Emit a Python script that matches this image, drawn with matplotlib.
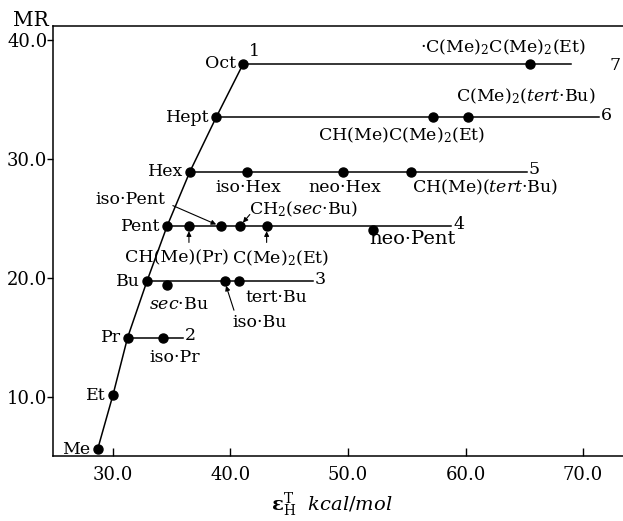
import matplotlib
matplotlib.use("Agg")
import matplotlib.pyplot as plt

plt.rcParams['font.family'] = ['DejaVu Serif']
plt.rcParams['mathtext.fontset'] = 'dejavuserif'

# n-alkyl chain (series 1)
chain_names = ['Me', 'Et', 'Pr', 'Bu', 'Pent', 'Hex', 'Hept', 'Oct']
chain_x = [28.7, 30.0, 31.25, 32.9, 34.6, 36.55, 38.8, 41.1]
chain_mr = [5.6, 10.15, 15.0, 19.75, 24.35, 28.95, 33.55, 38.05]

# horizontal series 2..7, each starts at an n-alkyl point
series_ids = ['2', '3', '4', '5', '6', '7']
series_start = ['Pr', 'Bu', 'Pent', 'Hex', 'Hept', 'Oct']
series_end_x = [36.0, 47.0, 58.8, 65.2, 71.4, 69.0]

# branched groups
branch_names = ['iso·Pr', 'sec·Bu', 'iso·Bu', 'tert·Bu',
                'CH(Me)(Pr)', 'iso·Pent', 'CH2(sec·Bu)', 'C(Me)2(Et)', 'neo·Pent',
                'iso·Hex', 'neo·Hex', 'CH(Me)(tert·Bu)',
                'CH(Me)C(Me)2(Et)', 'C(Me)2(tert·Bu)', 'C(Me)2C(Me)2(Et)']
branch_x = [34.3, 34.57, 39.5, 40.75,
            36.47, 39.17, 40.8, 43.08, 52.1,
            41.38, 49.6, 55.4,
            57.26, 60.2, 65.5]
branch_mr = [15.0, 19.45, 19.75, 19.75,
             24.35, 24.35, 24.35, 24.35, 24.05,
             28.95, 28.95, 28.95,
             33.55, 33.55, 38.05]

x_ticks = [30.0, 40.0, 50.0, 60.0, 70.0]
y_ticks = [10.0, 20.0, 30.0, 40.0]

# printed label for each branched group: (text, x, y, ha, size)
labels = {
    'iso·Pr': ('iso·Pr', 35.28, 13.3, 'center', 12.5),
    'sec·Bu': (r'$\it{sec}$·Bu', 35.6, 17.75, 'center', 12.5),
    'iso·Bu': ('iso·Bu', 42.5, 16.3, 'center', 12.5),
    'tert·Bu': ('tert·Bu', 43.9, 18.4, 'center', 12.5),
    'CH(Me)(Pr)': ('CH(Me)(Pr)', 35.45, 21.7, 'center', 12.5),
    'iso·Pent': ('iso·Pent', 31.45, 26.6, 'center', 12.5),
    'CH2(sec·Bu)': (r'CH$_2$($\it{sec}$·Bu)', 41.6, 25.75, 'left', 12.5),
    'C(Me)2(Et)': (r'C(Me)$_2$(Et)', 44.3, 21.7, 'center', 12.5),
    'neo·Pent': ('neo·Pent', 55.5, 23.3, 'center', 14),
    'iso·Hex': ('iso·Hex', 41.5, 27.6, 'center', 12.5),
    'neo·Hex': ('neo·Hex', 49.75, 27.6, 'center', 12.5),
    'CH(Me)(tert·Bu)': (r'CH(Me)($\it{tert}$·Bu)', 61.7, 27.6, 'center', 12.5),
    'CH(Me)C(Me)2(Et)': (r'CH(Me)C(Me)$_2$(Et)', 54.55, 32.0, 'center', 12.5),
    'C(Me)2(tert·Bu)': (r'C(Me)$_2$($\it{tert}$·Bu)', 65.1, 35.25, 'center', 12.5),
    'C(Me)2C(Me)2(Et)': (r'·C(Me)$_2$C(Me)$_2$(Et)', 63.2, 39.45, 'center', 12.5),
}

# little pointer arrows: label -> (from x, from y)
arrows = {
    'iso·Pent': (35.1, 26.1),
    'CH2(sec·Bu)': (41.65, 25.35),
    'CH(Me)(Pr)': (36.47, 23.0),
    'C(Me)2(Et)': (43.08, 23.0),
    'iso·Bu': (40.3, 17.3),
}

fig = plt.figure(figsize=(6.23, 5.21), dpi=100)
ax = fig.add_axes([0.085, 0.125, 0.915, 0.825])
ax.set_xlim(24.9, 73.4)
ax.set_ylim(5.05, 41.2)

# series 1 (n-alkyl)
ax.plot(chain_x, chain_mr, color='black', lw=1.1, zorder=2)
ax.plot(chain_x, chain_mr, 'o', color='black', ms=6.5, zorder=3)
for name, x, y in zip(chain_names, chain_x, chain_mr):
    ax.annotate(name, (x, y), xytext=(-5, 0), textcoords='offset points',
                ha='right', va='center', fontsize=12.5)
ax.annotate('1', (chain_x[-1], chain_mr[-1]), xytext=(4, 9), textcoords='offset points',
            ha='left', va='center', fontsize=12.5)

# series 2..7
for sid, start, xend in zip(series_ids, series_start, series_end_x):
    i = chain_names.index(start)
    y = chain_mr[i]
    ax.plot([chain_x[i], xend], [y, y], color='black', lw=1.1, zorder=2)
    if sid == '7':
        ax.text(72.7, y - 0.2, sid, ha='center', va='center', fontsize=12.5)
    else:
        ax.text(xend + 0.15, y + 0.15, sid, ha='left', va='center', fontsize=12.5)

ax.plot(branch_x, branch_mr, 'o', color='black', ms=6.5, zorder=3)

for name, x, y in zip(branch_names, branch_x, branch_mr):
    txt, tx, ty, ha, fs = labels[name]
    ax.text(tx, ty, txt, ha=ha, va='center', fontsize=fs)
    if name in arrows:
        ax.annotate('', xy=(x, y), xytext=arrows[name],
                    arrowprops=dict(arrowstyle='-|>', lw=0.8, color='black',
                                    mutation_scale=7, shrinkA=0, shrinkB=3.5))

ax.set_xticks(x_ticks)
ax.set_xticklabels(['%.1f' % v for v in x_ticks], fontsize=13)
ax.set_yticks(y_ticks)
ax.set_yticklabels(['%.1f' % v for v in y_ticks], fontsize=13)
ax.tick_params(axis='x', direction='in', length=6, width=1, pad=7)
ax.tick_params(axis='y', direction='out', length=4, width=1, pad=0)
ax.spines['right'].set_visible(False)
for s in ['left', 'bottom', 'top']:
    ax.spines[s].set_linewidth(1.1)

fig.text(13 / 623, 1 - 20 / 521, 'MR', ha='left', va='center', fontsize=14.5)
fig.text(332 / 623, 1 - 505 / 521, r'$\boldsymbol{\varepsilon}_{\rm H}^{\rm T}$  $\it{kcal/mol}$',
         ha='center', va='center', fontsize=14)

fig.savefig('out.png', dpi=100)
